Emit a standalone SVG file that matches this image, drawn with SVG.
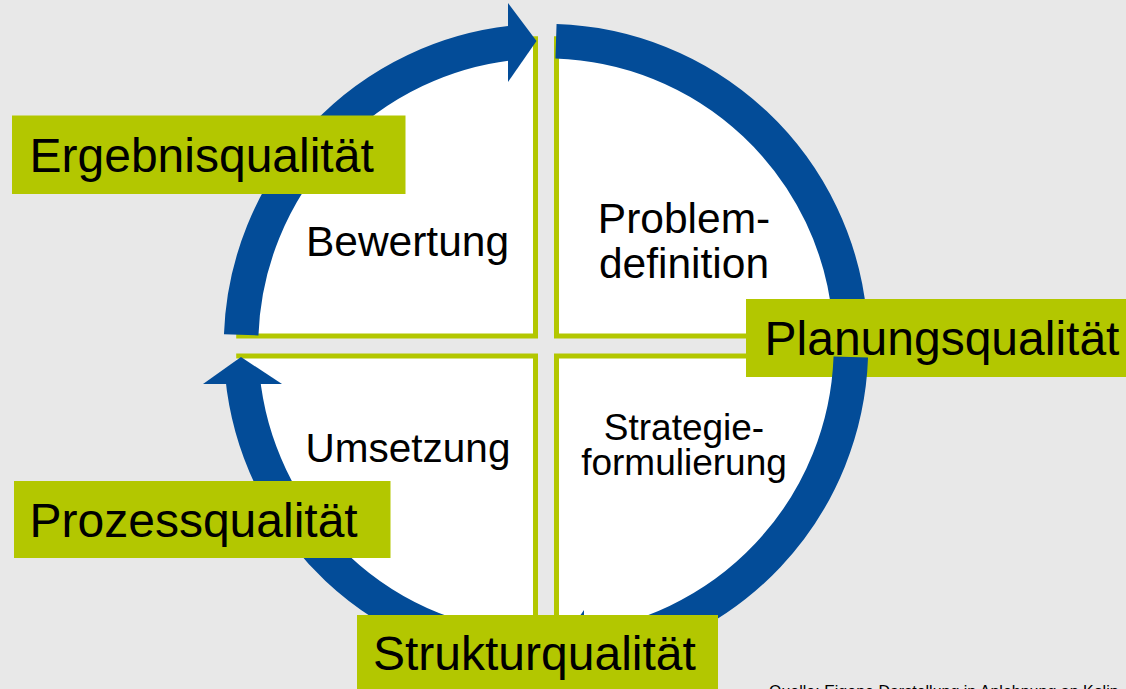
<svg xmlns="http://www.w3.org/2000/svg" width="1126" height="689" viewBox="0 0 1126 689">
<style>
.quad{fill:#ffffff;stroke:none}
.edge{fill:none;stroke:#b3c700;stroke-width:5;stroke-linejoin:miter}
.ring{fill:none;stroke:#034c98;stroke-width:34.5;stroke-linecap:butt}
.head{fill:#034c98;stroke:none}
.lbl{fill:#b3c700}
.t{font-family:"Liberation Sans",Arial,sans-serif;fill:#000}
.big{font-size:48px}
</style>
<rect x="0" y="0" width="1126" height="689" fill="#e8e8e8"/>

<g id="node-bewertung">
<path class="quad" d="M535.5 336 L535.5 36.2 A310 310 0 0 0 236.2 336 Z"/>
<polyline class="edge" points="535.5,36.2 535.5,336 236.2,336"/>
<text class="t" x="407.5" y="256" font-size="42.5" text-anchor="middle">Bewertung</text>
</g>
<g id="node-problemdefinition">
<path class="quad" d="M556.5 336 L556.5 36.2 A310 310 0 0 1 855.8 336 Z"/>
<polyline class="edge" points="556.5,36.2 556.5,336 855.8,336"/>
<text class="t" x="684" y="233" font-size="42.5" text-anchor="middle">Problem-</text>
<text class="t" x="684" y="278" font-size="42.5" text-anchor="middle">definition</text>
</g>
<g id="node-strategieformulierung">
<path class="quad" d="M556.5 356 L855.8 356 A310 310 0 0 1 556.5 655.8 Z"/>
<polyline class="edge" points="855.8,356 556.5,356 556.5,655.8"/>
<text class="t" x="684" y="440" font-size="37" text-anchor="middle">Strategie-</text>
<text class="t" x="684" y="475" font-size="37" text-anchor="middle">formulierung</text>
</g>
<g id="node-umsetzung">
<path class="quad" d="M535.5 356 L535.5 655.8 A310 310 0 0 1 236.2 356 Z"/>
<polyline class="edge" points="236.2,356 535.5,356 535.5,655.8"/>
<text class="t" x="408" y="462" font-size="40.5" text-anchor="middle">Umsetzung</text>
</g>

<g id="connectors">
<g id="arc-bewertung">
<path class="ring" d="M241.2 334.8 A305 305 0 0 1 516.8 42.4"/>
<polygon class="head" points="508,3 536.5,41 508,82"/>
</g>
<g id="arc-problemdefinition">
<path class="ring" d="M556 41.2 A305 305 0 0 1 849.6 316.8"/>
<polygon class="head" points="889,308 851,335 810,308"/>
</g>
<g id="arc-umsetzung">
<path class="ring" d="M536 650.8 A305 305 0 0 1 242.4 375.2"/>
<polygon class="head" points="203,384 241,357 282,384"/>
</g>
</g>

<g id="node-planungsqualitaet">
<rect class="lbl" x="746" y="299" width="380" height="78"/>
<text class="t big" x="764.5" y="355">Planungsqualität</text>
</g>

<g id="connectors-2">
<g id="arc-strategieformulierung">
<path class="ring" d="M850.8 357 A305 305 0 0 1 575.2 649.6"/>
<polygon class="head" points="584,610 555.5,651 584,689"/>
</g>
</g>

<g id="node-ergebnisqualitaet">
<rect class="lbl" x="12" y="115.5" width="393.5" height="78.5"/>
<text class="t big" x="29.5" y="172">Ergebnisqualität</text>
</g>
<g id="node-prozessqualitaet">
<rect class="lbl" x="14" y="481" width="376.5" height="77"/>
<text class="t big" x="29.5" y="536.5">Prozessqualität</text>
</g>
<g id="node-strukturqualitaet">
<rect class="lbl" x="357" y="615" width="361" height="80"/>
<text class="t big" x="373" y="670">Strukturqualität</text>
</g>

<text class="t" x="769" y="697" font-size="16" fill="#222">Quelle: Eigene Darstellung in Anlehnung an Kolip</text>
</svg>
